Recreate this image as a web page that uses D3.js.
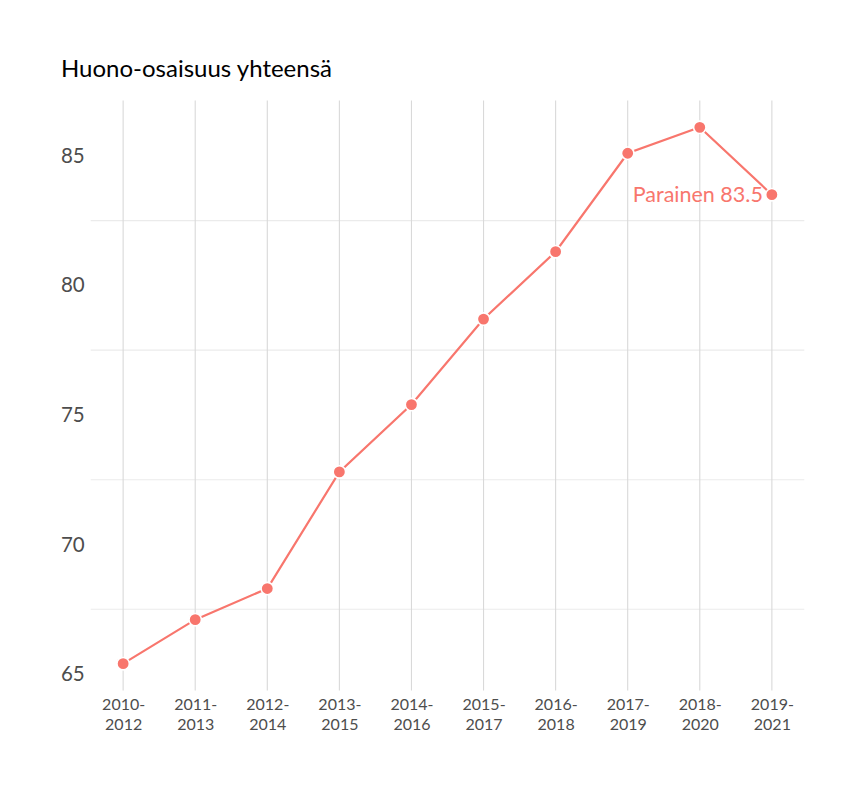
<!DOCTYPE html>
<html><head><meta charset="utf-8">
<script src="https://cdn.jsdelivr.net/npm/d3@7"></script>
<style>body{margin:0;background:#fff;} svg{display:block;font-family:Lato,sans-serif;}</style>
</head><body>
<script>
const periods = ["2010-2012","2011-2013","2012-2014","2013-2015","2014-2016","2015-2017","2016-2018","2017-2019","2018-2020","2019-2021"];
const values = [65.4, 67.1, 68.3, 72.8, 75.4, 78.7, 81.3, 85.1, 86.1, 83.5];
const yTicks = [65, 70, 75, 80, 85];
const yMinor = [67.5, 72.5, 77.5, 82.5];
const seriesName = "Parainen";
const title = "Huono-osaisuus yhteensä";
const color = "#F8766D";

const W = 864, H = 792;
const panel = {left: 90.7, right: 804.3, top: 100.5, bottom: 690.5};
const svg = d3.select("body").append("svg").attr("width", W).attr("height", H);

const n = periods.length;
const x = d3.scaleLinear().domain([-0.45, n - 1 + 0.45]).range([panel.left, panel.right]);
const ymin = d3.min(values), ymax = d3.max(values), pad = (ymax - ymin) * 0.05;
const y = d3.scaleLinear().domain([ymin - pad, ymax + pad]).range([panel.bottom, panel.top]);

// horizontal minor grid
svg.append("g").selectAll("line").data(yMinor).join("line")
  .attr("x1", panel.left).attr("x2", panel.right)
  .attr("y1", d => y(d)).attr("y2", d => y(d))
  .attr("stroke", "#ebebeb").attr("stroke-width", 1.1);
// vertical grid
svg.append("g").selectAll("line").data(periods).join("line")
  .attr("x1", (d, i) => x(i)).attr("x2", (d, i) => x(i))
  .attr("y1", panel.top).attr("y2", panel.bottom)
  .attr("stroke", "#d9d9d9").attr("stroke-width", 1.1);

// y axis labels
const yAxis = d3.axisLeft(y).tickValues(yTicks).tickSize(0).tickPadding(6);
const gy = svg.append("g").attr("transform", `translate(${panel.left},0)`).call(yAxis);
gy.select(".domain").remove();
gy.selectAll("text").attr("font-family", "Lato, sans-serif").attr("font-size", 20.5).attr("fill", "#4d4d4d");

// x axis labels (two lines, as separate texts)
const xAxis = d3.axisBottom(x).tickValues(d3.range(n)).tickSize(0).tickFormat(() => "");
const gx = svg.append("g").attr("transform", `translate(0,${panel.bottom})`).call(xAxis);
gx.select(".domain").remove();
gx.selectAll(".tick text").remove();
gx.selectAll(".tick").each(function(d) {
  const parts = periods[d].split("-");
  const g = d3.select(this);
  [parts[0] + "-", parts[1]].forEach((txt, k) => {
    g.append("text")
      .attr("text-anchor", "middle").attr("font-family", "Lato, sans-serif")
      .attr("font-size", 16).attr("fill", "#4d4d4d")
      .attr("x", 0).attr("y", k === 0 ? 19.5 : 39)
      .text(txt);
  });
});

// line
svg.append("path").datum(values)
  .attr("fill", "none").attr("stroke", color).attr("stroke-width", 2.2)
  .attr("d", d3.line().x((d, i) => x(i)).y(d => y(d)));

// points
svg.append("g").selectAll("circle").data(values).join("circle")
  .attr("cx", (d, i) => x(i)).attr("cy", d => y(d)).attr("r", 6.2)
  .attr("fill", color).attr("stroke", "#fff").attr("stroke-width", 1.6);

// end label
const last = values.length - 1;
svg.append("text")
  .attr("x", x(last) - 9).attr("y", y(values[last]))
  .attr("dy", "0.35em").attr("text-anchor", "end")
  .attr("font-family", "Lato, sans-serif").attr("font-size", 21.5).attr("fill", color)
  .text(`${seriesName} ${values[last]}`);

// title
svg.append("text").attr("x", 61).attr("y", 77)
  .attr("font-family", "Lato, sans-serif").attr("font-size", 24).attr("fill", "#000")
  .text(title);
</script>
</body></html>
